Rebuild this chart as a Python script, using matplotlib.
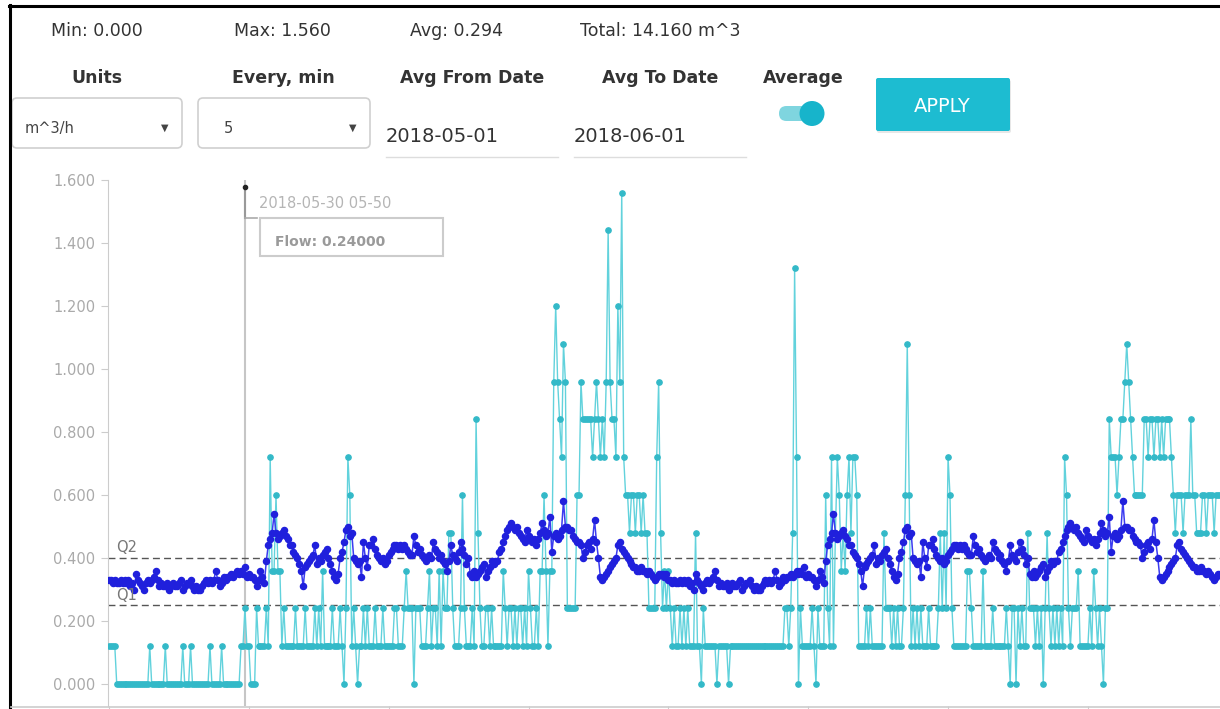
import numpy as np
import matplotlib.pyplot as plt
from matplotlib.patches import FancyBboxPatch, Rectangle, Circle

# flow readings, one per 5 minutes over two days (1 pulse = 0.12 m^3/h)
pulse_step = 0.12
flow_pulses = [
    1, 1, 1, 1, 0, 0, 0, 0, 0, 0,  0, 0, 0, 0, 0, 0, 0, 0, 0, 0,
    0, 1, 0, 0, 0, 0, 0, 0, 0, 1,  0, 0, 0, 0, 0, 0, 0, 0, 1, 0,
    0, 0, 1, 0, 0, 0, 0, 0, 0, 0,  0, 0, 1, 0, 0, 0, 0, 0, 1, 0,
    0, 0, 0, 0, 0, 0, 0, 0, 1, 1,  2, 1, 1, 0, 0, 0, 2, 1, 1, 1,
    1, 2, 1, 6, 3, 3, 5, 3, 3, 1,  2, 1, 1, 1, 1, 1, 2, 1, 1, 1,
    1, 2, 1, 1, 1, 1, 2, 1, 2, 1,  3, 1, 1, 1, 1, 2, 1, 1, 1, 2,
    1, 0, 2, 6, 5, 1, 2, 1, 0, 1,  1, 2, 1, 2, 1, 1, 1, 2, 1, 1,
    1, 2, 1, 1, 1, 1, 1, 2, 2, 1,  1, 1, 2, 3, 2, 2, 2, 0, 2, 2,
    2, 1, 1, 1, 2, 3, 1, 2, 2, 1,  3, 1, 3, 2, 2, 4, 4, 2, 1, 1,
    1, 2, 5, 2, 1, 1, 1, 2, 1, 7,  4, 2, 1, 1, 2, 2, 1, 2, 1, 1,
    1, 1, 1, 3, 2, 1, 2, 2, 1, 2,  1, 2, 2, 1, 2, 1, 3, 2, 1, 1,
    2, 1, 3, 3, 5, 3, 1, 3, 3, 8,  10, 8, 7, 6, 9, 8, 2, 2, 2, 2,
    2, 5, 5, 8, 7, 7, 7, 7, 7, 6,  7, 8, 7, 6, 7, 6, 8, 12, 8, 7,
    7, 6, 10, 8, 13, 6, 5, 5, 4, 5,  5, 4, 5, 5, 4, 5, 4, 4, 2, 2,
    2, 2, 6, 8, 4, 2, 3, 2,
    3, 2, 1, 2, 1, 1, 2, 1, 2, 1, 2, 1,
    1, 1, 4, 1, 1, 0, 2, 1, 1, 1,  1, 1, 1, 0, 1, 1, 1, 1, 1, 0,
    1, 1, 1, 1, 1, 1, 1, 1, 1, 1,  1, 1, 1, 1, 1, 1, 1, 1, 1, 1,
    1, 1, 1, 1, 1, 1, 1, 1,
    2, 2, 1, 2, 4, 11, 6, 0, 2, 1,  1, 1, 1, 1, 2, 1, 0, 2, 1, 1,
    1, 5, 2, 1, 6, 1, 4, 6, 5, 3,  4, 3, 5, 6, 4, 6, 6, 5, 1, 1,
    1, 1, 2, 1, 2, 1, 1, 1, 1, 1,  1, 4, 2, 2, 2, 1, 2, 1, 2, 1,
    1, 2, 5, 9, 5, 1, 2, 1, 2, 1,  2, 1, 1, 1, 2, 1, 1, 1, 1, 2,
    4, 2, 4, 2, 6, 5, 2, 1, 1, 1,  1, 1, 1, 1, 3, 3, 2, 1, 1, 1,
    1, 1, 3, 1, 1, 1, 1, 2, 1, 1,  1, 1, 1, 1, 2, 1, 0, 2, 2, 0,
    2, 1, 2, 1, 1, 4, 2, 2, 2, 1,  2, 1, 2, 0, 2, 4, 2, 1, 2, 1,
    2, 1, 2, 1, 6, 5, 2, 1, 2, 2,  2, 3, 1, 1, 1, 1, 1, 2, 1, 3,
    2, 1, 2, 1, 0, 2, 2, 7, 6, 6,  6, 5, 6, 7, 7, 8, 9, 8, 7, 6,
    5, 5, 5, 5, 5, 7, 7, 6, 7, 7,  6, 7, 7, 6, 7, 6, 7, 7, 7, 6,
    5, 4, 5, 5, 5, 4, 5, 5, 5, 7,  5, 5, 4, 4, 4, 5, 5, 4, 5, 5,
    5, 4, 5, 5, 5, 5, 5, 5,
]

# averaged daily profile (2018-05-01 .. 2018-06-01), shown for each day
avg_day = [
    .33, .33, .32, .33, .32, .32, .33, .32, .33, .32,
    .33, .31, .32, .30, .35, .33, .32, .31, .30, .32,
    .33, .32, .33, .34, .36, .33, .31, .32, .31, .31,
    .32, .30, .31, .32, .31, .31, .32, .33, .30, .31,
    .32, .32, .33, .31, .30, .31, .30, .30, .31, .32,
    .33, .32, .33, .32, .33, .36, .33, .31, .32, .34,
    .33, .34, .34, .35, .34, .35, .36, .35, .36, .35,
    .37, .34, .35, .34, .34, .33, .31, .33, .36, .34,
    .32, .39, .44, .46, .48, .54, .48, .46, .47, .48,
    .49, .47, .46, .44, .44, .42, .41, .40, .38, .36,
    .31, .37, .38, .39, .40, .41, .44, .38, .40, .39,
    .41, .42, .43, .40, .38, .36, .34, .33, .35, .40,
    .42, .45, .49, .50, .47, .48, .40, .39, .38, .39,
    .34, .45, .40, .37, .44, .44, .46, .43, .41, .40,
    .39, .40, .38, .39, .41, .42, .43, .44, .44, .43,
    .44, .43, .44, .43, .42, .41, .41, .47, .44, .42,
    .43, .41, .40, .39, .40, .41, .40, .45, .43, .42,
    .40, .41, .39, .38, .36, .39, .44, .41, .40, .39,
    .42, .45, .43, .41, .38, .40, .35, .34, .36, .34,
    .35, .36, .37, .38, .34, .36, .37, .39, .38, .39,
    .39, .42, .43, .45, .47, .49, .50, .51, .50, .49,
    .50, .48, .47, .46, .45, .49, .47, .46, .45, .46,
    .44, .46, .48, .51, .49, .47, .48, .53, .42, .47,
    .48, .46, .47, .49, .58, .50, .50, .49, .49, .47,
    .46, .45, .45, .44, .40, .42, .44, .45, .43, .46,
    .52, .45, .40, .34, .33, .34, .35, .36, .37, .38,
    .39, .40, .44, .45, .43, .42, .41, .40, .39, .38,
    .37, .37, .36, .36, .37, .36, .36, .35, .36, .35,
    .34, .33, .34, .35, .35, .35, .34, .35,
]

y_ticks = [0.0, 0.2, 0.4, 0.6, 0.8, 1.0, 1.2, 1.4, 1.6]
q1, q2 = 0.25, 0.40
cursor_idx = 70
cursor_label = "2018-05-30 05-50"
cursor_value = "Flow: 0.24000"
stats = [("Min: 0.000", 97), ("Max: 1.560", 282), ("Avg: 0.294", 457),
         ("Total: 14.160 m^3", 660)]
headers = [("Units", 97), ("Every, min", 283), ("Avg From Date", 472),
           ("Avg To Date", 660), ("Average", 803)]
units_sel, every_sel = "m^3/h", "5"
date_from, date_to = "2018-05-01", "2018-06-01"

flow = np.array(flow_pulses) * pulse_step
avg = np.array(avg_day + avg_day)
x = np.arange(len(flow))

W, H = 1220, 709
fig = plt.figure(figsize=(W / 100, H / 100), dpi=100)
step_px = 1.944
n = len(flow)

ax = fig.add_axes([108 / W, 1 - 706 / H, n * step_px / W, (706 - 180) / H])
ax.set_xlim(-0.5, n - 0.5)
ax.set_ylim(-22 / 315, 1.6)
for s in ["top", "right", "bottom"]:
    ax.spines[s].set_visible(False)
ax.spines["left"].set_color("#cccccc")
ax.set_yticks(y_ticks)
ax.set_yticklabels([f"{v:.3f}" for v in y_ticks])
ax.tick_params(axis="y", length=5, color="#cccccc", labelcolor="#aaaaaa",
               labelsize=10.5, pad=4)
ax.set_xticks(range(0, n + 1, 72))
ax.set_xticklabels([])
ax.tick_params(axis="x", length=4, color="#cccccc")

ax.axvline(cursor_idx, color="#c6c6c6", lw=1.5, zorder=1)
ax.axhline(q2, color="#555555", lw=1, ls=(0, (5, 3)), zorder=2)
ax.axhline(q1, color="#555555", lw=1, ls=(0, (5, 3)), zorder=2)
ax.plot(x, flow, color="#62d2dc", lw=1.0, marker="o", ms=3.8,
        mfc="#33b9c8", mec="#33b9c8", zorder=3)
ax.plot(x, avg, color="#3b3bf0", lw=1.1, marker="o", ms=4.4,
        mfc="#2020dc", mec="#2020dc", zorder=4)

# overlay in pixel units for the page widgets
ui = fig.add_axes([0, 0, 1, 1], zorder=5)
ui.set_xlim(0, W)
ui.set_ylim(H, 0)
ui.axis("off")
ui.patch.set_alpha(0)

ui.plot([10, 10], [5, H], color="black", lw=2.2)
ui.plot([9, W], [6, 6], color="black", lw=2.2)
ui.plot([11, W], [706.5, 706.5], color="#cccccc", lw=1.2)

ui.text(116, 552, "Q2", color="#777777", fontsize=10.5)
ui.text(116, 600, "Q1", color="#777777", fontsize=10.5)

# cursor tooltip
ui.plot([245, 245], [187, 218], color="#999999", lw=1.5)
ui.plot([245, 257], [218, 218], color="#aaaaaa", lw=1.2)
ui.plot([245], [187], "o", color="#222222", ms=3)
ui.text(259, 208, cursor_label, color="#b5b5b5", fontsize=10.5)
ui.add_patch(Rectangle((260, 218), 183, 38, fc="white", ec="#cccccc", lw=1.5))
ui.text(275, 246, cursor_value, color="#9a9a9a", fontsize=10,
        fontweight="bold")

for s, cx in stats:
    ui.text(cx, 36, s, ha="center", color="#333333", fontsize=12.5)
for s, cx in headers:
    ui.text(cx, 83, s, ha="center", color="#333333", fontsize=12.5,
            fontweight="bold")

for (x0, x1), txt, tx in [((12, 182), units_sel, 25), ((198, 370), every_sel, 224)]:
    ui.add_patch(FancyBboxPatch((x0, 98), x1 - x0, 50,
                                boxstyle="round,pad=0,rounding_size=5",
                                fc="white", ec="#d0d0d0", lw=1.2))
    ui.text(tx, 133, txt, color="#444444", fontsize=10.5)
    ui.text(x1 - 17, 131, "\u25bc", ha="center", color="#444444", fontsize=7)

for x0, txt in [(386, date_from), (574, date_to)]:
    ui.text(x0, 142, txt, color="#333333", fontsize=14)
    ui.plot([x0, x0 + 172], [157, 157], color="#dddddd", lw=1)

# toggle switch and button
ui.add_patch(FancyBboxPatch((779, 106), 42, 15,
                            boxstyle="round,pad=0,rounding_size=7.5",
                            fc="#7fd5df", ec="none"))
ui.add_patch(Circle((812, 113.5), 12.5, fc="#17b4cb", ec="none"))
ui.add_patch(FancyBboxPatch((877, 80), 134, 53,
                            boxstyle="round,pad=0,rounding_size=2",
                            fc="#d8d8d8", ec="none", alpha=0.6))
ui.add_patch(FancyBboxPatch((876, 78), 134, 53,
                            boxstyle="round,pad=0,rounding_size=2",
                            fc="#1dbcd1", ec="none"))
ui.text(942, 112, "APPLY", ha="center", color="white", fontsize=14)

fig.savefig("out.png", dpi=100)
